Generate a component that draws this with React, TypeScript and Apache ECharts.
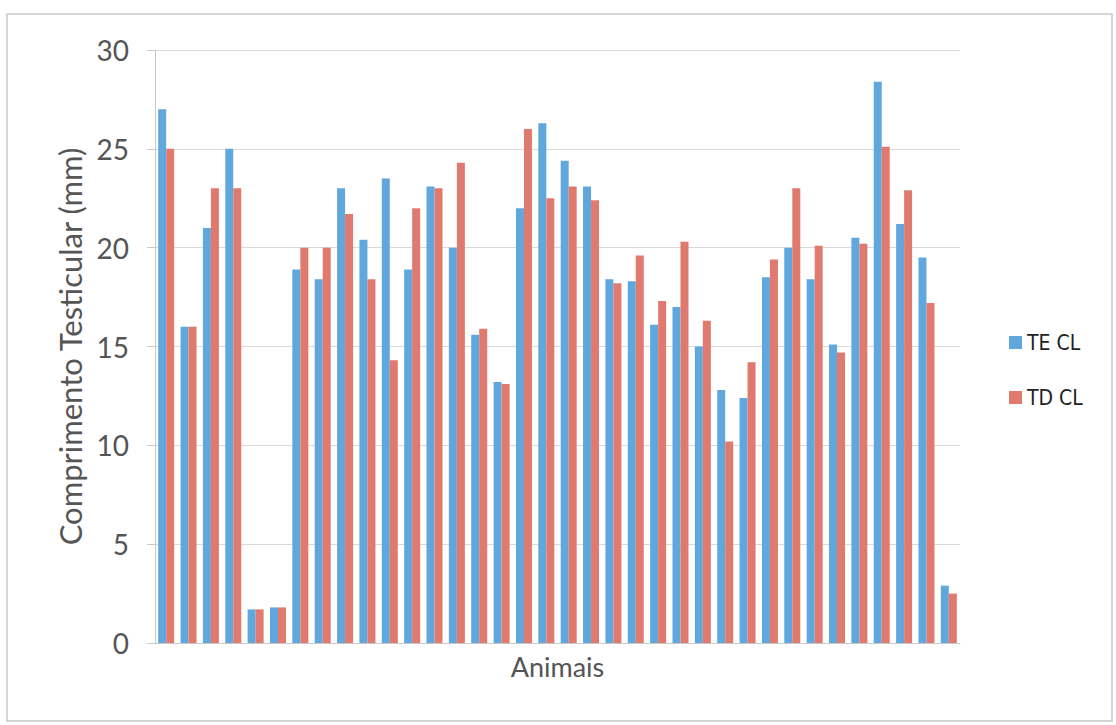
import React, { useEffect, useRef } from "react";
import * as echarts from "echarts";

const categories = Array.from({ length: 36 }, (_, i) => String(i + 1));
const teCL = [
  27.0, 16.0, 21.0, 25.0, 1.7, 1.8, 18.9, 18.4, 23.0, 20.4, 23.5, 18.9,
  23.1, 20.0, 15.6, 13.2, 22.0, 26.3, 24.4, 23.1, 18.4, 18.3, 16.1, 17.0,
  15.0, 12.8, 12.4, 18.5, 20.0, 18.4, 15.1, 20.5, 28.4, 21.2, 19.5, 2.9,
];
const tdCL = [
  25.0, 16.0, 23.0, 23.0, 1.7, 1.8, 20.0, 20.0, 21.7, 18.4, 14.3, 22.0,
  23.0, 24.3, 15.9, 13.1, 26.0, 22.5, 23.1, 22.4, 18.2, 19.6, 17.3, 20.3,
  16.3, 10.2, 14.2, 19.4, 23.0, 20.1, 14.7, 20.2, 25.1, 22.9, 17.2, 2.5,
];
const seriesNames = ["TE CL", "TD CL"];
const yTicks = [0, 5, 10, 15, 20, 25, 30];

export default function App() {
  const ref = useRef<HTMLDivElement>(null);
  useEffect(() => {
    if (!ref.current) return;
    const chart = echarts.init(ref.current, null, { renderer: "svg" });
    const font = "Lato, 'Open Sans', 'Noto Sans', sans-serif";
    chart.setOption({
      animation: false,
      backgroundColor: "#ffffff",
      graphic: [
        {
          type: "rect",
          shape: { x: 7, y: 14, width: 1105, height: 707 },
          style: { fill: "none", stroke: "#c8c8c8", lineWidth: 1.5 },
          silent: true,
        },
      ],
      legend: {
        orient: "vertical",
        left: 1004,
        top: 327,
        itemWidth: 13,
        itemHeight: 13,
        itemGap: 34,
        icon: "rect",
        data: seriesNames,
        textStyle: {
          fontSize: 21,
          color: "#222",
          fontFamily: "'Liberation Sans Narrow', 'DejaVu Sans Condensed', sans-serif",
        },
      },
      grid: { left: 155, right: 156, top: 50, bottom: 82 },
      xAxis: {
        type: "category",
        data: categories,
        name: "Animais",
        nameLocation: "middle",
        nameGap: 10,
        nameTextStyle: { fontSize: 27, color: "#555", fontFamily: font },
        axisLabel: { show: false },
        axisTick: { show: false },
        axisLine: { lineStyle: { color: "#c8c8c8" } },
      },
      yAxis: {
        type: "value",
        min: yTicks[0],
        max: yTicks[yTicks.length - 1],
        interval: 5,
        name: "Comprimento Testicular (mm)",
        nameLocation: "middle",
        nameGap: 64,
        nameTextStyle: { fontSize: 31, color: "#555", fontFamily: font },
        axisLabel: { fontSize: 28, color: "#555", fontFamily: font, margin: 26 },
        axisLine: { show: true, lineStyle: { color: "#c8c8c8" } },
        axisTick: { show: true, length: 8, lineStyle: { color: "#c8c8c8" } },
        splitLine: { lineStyle: { color: "#d9d9d9" } },
      },
      series: [
        {
          name: seriesNames[0],
          type: "bar",
          data: teCL,
          barWidth: 8,
          barGap: "0%",
          itemStyle: { color: "#5fa7dd" },
        },
        {
          name: seriesNames[1],
          type: "bar",
          data: tdCL,
          barWidth: 8,
          itemStyle: { color: "#e07a6e" },
        },
      ],
    });
    return () => chart.dispose();
  }, []);
  return (
    <div
      ref={ref}
      style={{ position: "fixed", left: 0, top: 0, width: 1116, height: 725 }}
    />
  );
}
